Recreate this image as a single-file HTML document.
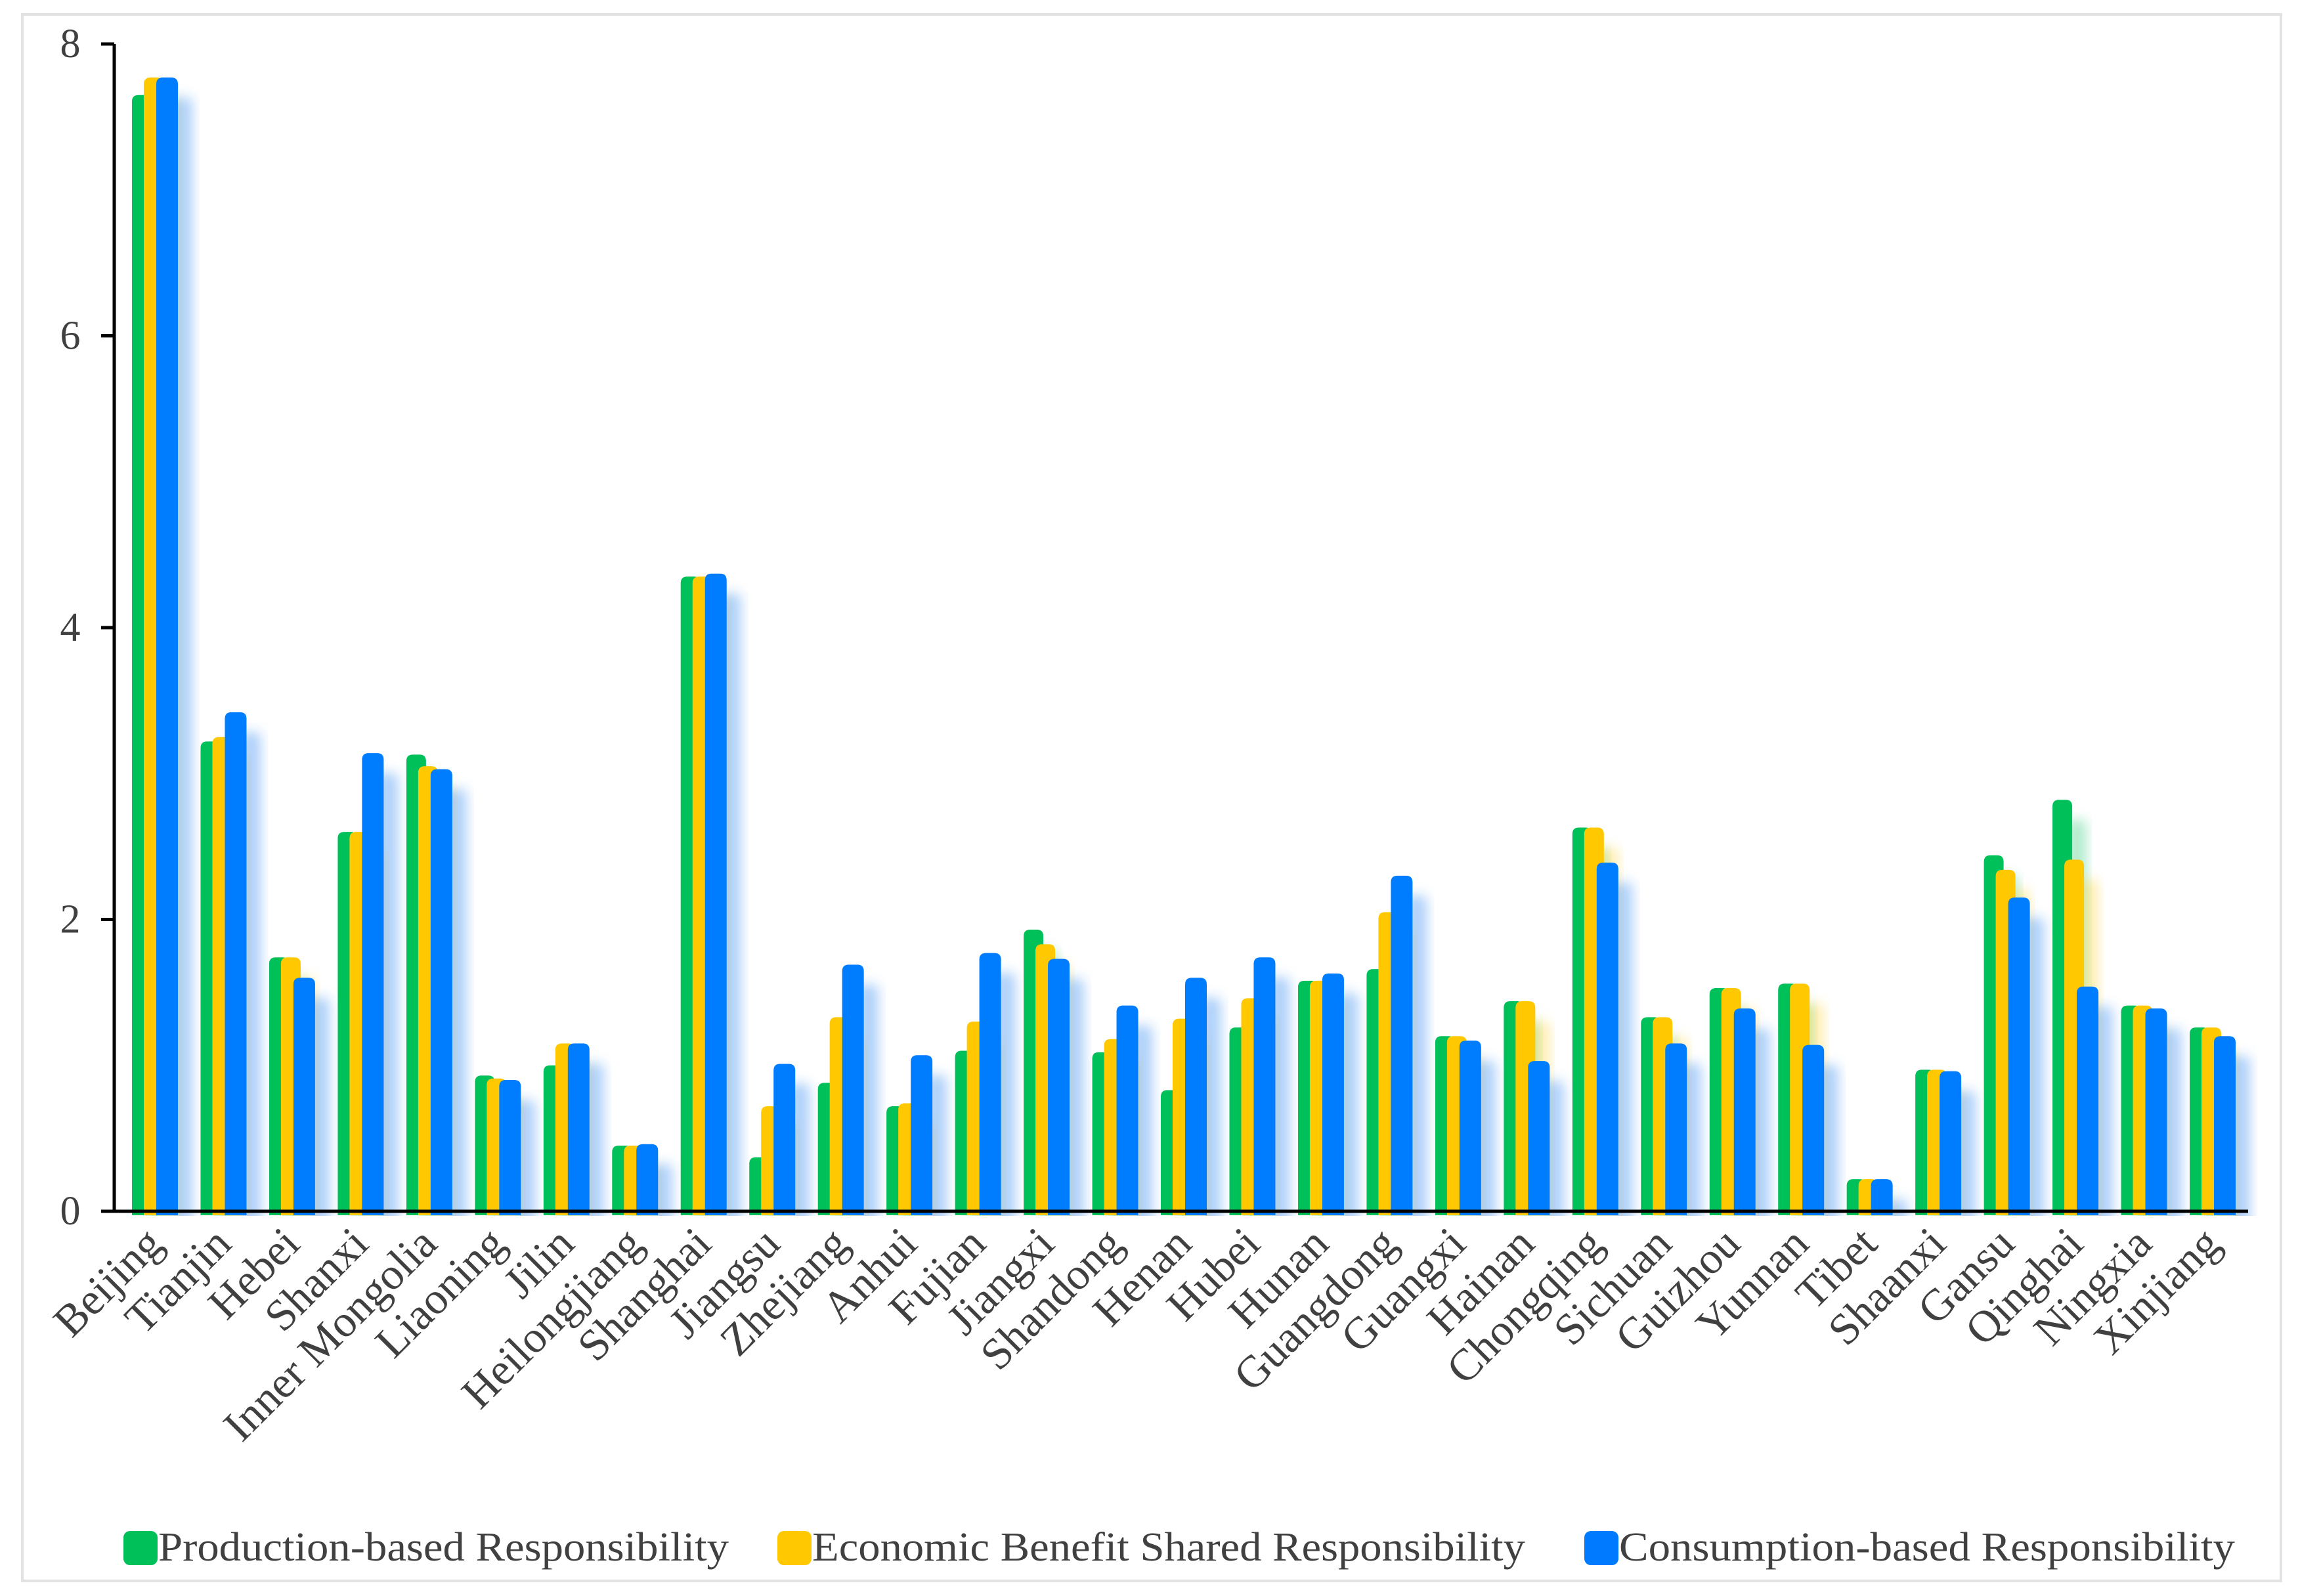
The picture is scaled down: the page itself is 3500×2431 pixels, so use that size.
<!DOCTYPE html>
<html><head><meta charset="utf-8"><style>
html,body{margin:0;padding:0;background:#fff;}
svg{display:block;}
text{font-family:"Liberation Serif",serif;fill:#404040;}
</style></head><body>
<svg id="chart" width="3500" height="2431" viewBox="0 0 3500 2431" xmlns="http://www.w3.org/2000/svg">
<defs>
<filter id="shG" x="-50%" y="-10%" width="250%" height="130%"><feDropShadow dx="22" dy="30" stdDeviation="9" flood-color="#00c05a" flood-opacity="0.3"/></filter>
<filter id="shY" x="-50%" y="-10%" width="250%" height="130%"><feDropShadow dx="22" dy="30" stdDeviation="9" flood-color="#ffc800" flood-opacity="0.3"/></filter>
<filter id="shB" x="-50%" y="-10%" width="250%" height="130%"><feDropShadow dx="22" dy="30" stdDeviation="9" flood-color="#3b8cf0" flood-opacity="0.4"/></filter>
<clipPath id="plotClip"><rect x="176" y="0" width="3300" height="1852"/></clipPath>
</defs>
<rect x="34" y="22" width="3440" height="2386" fill="#fff" stroke="#e2e2e2" stroke-width="4"/>
<g id="bars" clip-path="url(#plotClip)"></g>
<g id="axes"></g>
<g id="labels"></g>
<g id="legend"></g>
</svg>
<script>
const categories=["Beijing","Tianjin","Hebei","Shanxi","Inner Mongolia","Liaoning","Jilin","Heilongjiang","Shanghai","Jiangsu","Zhejiang","Anhui","Fujian","Jiangxi","Shandong","Henan","Hubei","Hunan","Guangdong","Guangxi","Hainan","Chongqing","Sichuan","Guizhou","Yunnan","Tibet","Shaanxi","Gansu","Qinghai","Ningxia","Xinjiang"];
const production=[7.65,3.22,1.74,2.60,3.13,0.93,1.00,0.45,4.35,0.37,0.88,0.72,1.10,1.93,1.09,0.83,1.26,1.58,1.66,1.20,1.44,2.63,1.33,1.53,1.56,0.22,0.97,2.44,2.82,1.41,1.26];
const economic=[7.77,3.25,1.74,2.60,3.05,0.91,1.15,0.45,4.35,0.72,1.33,0.74,1.30,1.83,1.18,1.32,1.46,1.58,2.05,1.20,1.44,2.63,1.33,1.53,1.56,0.22,0.97,2.34,2.41,1.41,1.26];
const consumption=[7.77,3.42,1.60,3.14,3.03,0.90,1.15,0.46,4.37,1.01,1.69,1.07,1.77,1.73,1.41,1.60,1.74,1.63,2.30,1.17,1.03,2.39,1.15,1.39,1.14,0.22,0.96,2.15,1.54,1.39,1.20];
const yTicks=[0,2,4,6,8];
const seriesNames=["Production-based Responsibility","Economic Benefit Shared Responsibility","Consumption-based Responsibility"];

const NS="http://www.w3.org/2000/svg";
const X0=174,Y0=1845,Y8=67,FIRST=201,LAST=3335;
const PITCH=(LAST-FIRST)/(categories.length-1);
const y=v=>Y0-(v/8)*(Y0-Y8);
const xg=i=>FIRST+i*PITCH;
function mk(tag,attrs,parent){const e=document.createElementNS(NS,tag);for(const k in attrs)e.setAttribute(k,attrs[k]);parent.appendChild(e);return e;}
const bars=document.getElementById('bars');
function bar(x,w,v,color,filt,parent){
  const top=y(v),h=Y0-top,r=Math.min(10,h/2),b=Y0+6;
  const d=`M${x},${b} L${x},${top+r} Q${x},${top} ${x+r},${top} L${x+w-r},${top} Q${x+w},${top} ${x+w},${top+r} L${x+w},${b} Z`;
  return mk('path',{d:d,fill:color,filter:filt},parent);
}
const series=[[production,"#00c05a","url(#shG)",0,30,"production"],[economic,"#ffc800","url(#shY)",18,30,"economic"],[consumption,"#007bff","url(#shB)",37,33,"consumption"]];
categories.forEach((c,i)=>{
  const g=mk('g',{},bars);
  
  
  series.forEach(s=>{
    const p=bar(xg(i)+s[3],s[4],s[0][i],s[1],s[2],g);
    
    
  });
});
const axes=document.getElementById('axes');
const xa=mk('line',{x1:X0,y1:Y0,x2:3424,y2:Y0,stroke:'#000','stroke-width':5},axes);


const ya=mk('line',{x1:X0,y1:Y0+2,x2:X0,y2:Y8,stroke:'#000','stroke-width':5},axes);


yTicks.forEach(t=>{
  const tk=mk('line',{x1:X0-20,y1:y(t),x2:X0,y2:y(t),stroke:'#000','stroke-width':5},axes);
  
  
  const tl=mk('text',{x:107,y:y(t)+20,'font-size':62,'text-anchor':'middle'},axes);
  tl.textContent=t;
  
  
});
const labels=document.getElementById('labels');
categories.forEach((c,i)=>{
  const cx=xg(i)+50,cy=1898;
  const t=mk('text',{x:cx,y:cy,'font-size':68,'text-anchor':'end',transform:`rotate(-45 ${cx} ${cy})`},labels);
  t.textContent=c;
  
  
});
const legend=document.getElementById('legend');
const lx=[188,1184,2413],lw=[869,1086,938];
series.forEach((s,k)=>{
  const g=mk('g',{},legend);
  
  
  mk('rect',{x:lx[k],y:2332,width:52,height:52,rx:10,fill:s[1]},g);
  const t=mk('text',{x:lx[k]+53,y:2377,'font-size':62,textLength:lw[k],lengthAdjust:'spacingAndGlyphs'},g);
  t.textContent=seriesNames[k];
});
</script>
</body></html>
